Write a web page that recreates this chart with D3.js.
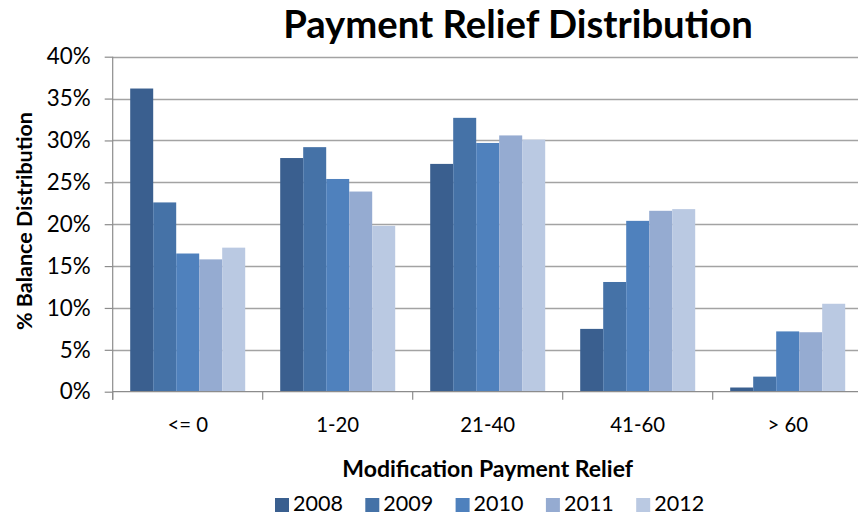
<!DOCTYPE html>
<html>
<head>
<meta charset="utf-8">
<script src="https://cdn.jsdelivr.net/npm/d3@7"></script>
<style>
html,body{margin:0;padding:0;background:#fff;overflow:hidden;}
svg{display:block;}
text{font-family:Lato,"Open Sans",sans-serif;fill:#000;}
</style>
</head>
<body>
<svg id="chart" width="858" height="516"></svg>
<script>
const categories = ["<= 0", "1-20", "21-40", "41-60", "> 60"];
const years = ["2008", "2009", "2010", "2011", "2012"];
const values2008 = [36.2, 27.9, 27.2, 7.5, 0.5];
const values2009 = [22.6, 29.2, 32.7, 13.1, 1.8];
const values2010 = [16.5, 25.4, 29.7, 20.4, 7.2];
const values2011 = [15.8, 23.9, 30.6, 21.6, 7.1];
const values2012 = [17.2, 19.8, 30.1, 21.8, 10.5];
const yTicks = [0, 5, 10, 15, 20, 25, 30, 35, 40];
const colors = ["#3a5f8f", "#4572a7", "#4f81bd", "#95abd1", "#bac9e2"];

(function () {
const seriesValues = [values2008, values2009, values2010, values2011, values2012];
const series = years.map((yr, i) => ({year: yr, values: seriesValues[i], color: colors[i]}));

const svg = d3.select("#chart");
const pLeft = 112.7, pRight = 862.7, pTop = 56.7, pBottom = 391.7;

const x0 = d3.scaleBand().domain(categories).range([pLeft, pRight])
  .paddingInner(35 / 150).paddingOuter(17.5 / 150);
const x1 = d3.scaleBand().domain(years).range([0, x0.bandwidth()]).padding(0);
const y = d3.scaleLinear().domain([0, 40]).range([pBottom, pTop]);

function fit(sel, target) {
  const base = 20;
  sel.attr("font-size", base);
  const l = sel.node().getComputedTextLength();
  sel.attr("font-size", base * target / l);
  return sel;
}

// gridlines
svg.append("g").selectAll("line").data(yTicks.filter(d => d > 0)).join("line")
  .attr("x1", pLeft).attr("x2", 858)
  .attr("y1", d => Math.round(y(d)) + 0.5).attr("y2", d => Math.round(y(d)) + 0.5)
  .attr("stroke", "#a3a3a3").attr("stroke-width", 1.3);

// bars
const groups = svg.append("g").selectAll("g").data(series).join("g")
  .attr("fill", d => d.color);
groups.selectAll("rect").data(s => s.values.map((v, i) => ({cat: categories[i], v, year: s.year})))
  .join("rect")
  .attr("x", d => x0(d.cat) + x1(d.year))
  .attr("width", x1.bandwidth())
  .attr("y", d => y(d.v))
  .attr("height", d => y(0) - y(d.v));

// y axis
const yAxis = svg.append("g").attr("transform", `translate(${pLeft},0)`)
  .call(d3.axisLeft(y).tickValues(yTicks).tickFormat(d => d + "%").tickSize(8).tickPadding(14));
yAxis.select(".domain").remove();
yAxis.selectAll(".tick line").attr("stroke", "#8c8c8c").attr("stroke-width", 1.2);
yAxis.selectAll(".tick text").attr("font-family", "Lato").attr("fill", "#222");
const t40 = yAxis.selectAll(".tick text").filter(d => d === 40);
fit(t40, 44);
yAxis.selectAll(".tick text").attr("font-size", t40.attr("font-size"));

svg.append("line").attr("x1", pLeft).attr("x2", pLeft).attr("y1", pTop).attr("y2", pBottom + 8)
  .attr("stroke", "#8c8c8c").attr("stroke-width", 1.2);

// x axis
svg.append("line").attr("x1", pLeft).attr("x2", 858).attr("y1", pBottom).attr("y2", pBottom)
  .attr("stroke", "#8c8c8c").attr("stroke-width", 1.2);
const step = x0.step();
const boundaries = categories.map(c => x0(c) - (step - x0.bandwidth()) / 2).concat([pRight]);
svg.append("g").selectAll("line").data(boundaries).join("line")
  .attr("x1", d => d).attr("x2", d => d).attr("y1", pBottom).attr("y2", pBottom + 8)
  .attr("stroke", "#8c8c8c").attr("stroke-width", 1.2);

const xLabels = svg.append("g").selectAll("text").data(categories).join("text")
  .attr("x", d => x0(d) + x0.bandwidth() / 2)
  .attr("y", 432)
  .attr("text-anchor", "middle")
  .attr("fill", "#222")
  .text(d => d);
const lbl = xLabels.filter(d => d === "1-20");
fit(lbl, 43);
xLabels.attr("font-size", lbl.attr("font-size"));

// axis titles
const xt = svg.append("text").attr("x", (pLeft + pRight) / 2).attr("y", 477)
  .attr("text-anchor", "middle").attr("font-weight", "bold")
  .text("Modification Payment Relief");
fit(xt, 291);

const yt = svg.append("text").attr("transform", "translate(32,221) rotate(-90)")
  .attr("text-anchor", "middle").attr("font-weight", "bold")
  .text("% Balance Distribution");
fit(yt, 218);

// title
const title = svg.append("text").attr("x", 518).attr("y", 38)
  .attr("text-anchor", "middle").attr("font-weight", "bold")
  .text("Payment Relief Distribution");
fit(title, 470);

// legend
const legend = svg.append("g").selectAll("g").data(series).join("g")
  .attr("transform", (d, i) => `translate(${275 + i * 90.3},0)`);
legend.append("rect").attr("x", 0).attr("y", 498).attr("width", 14).attr("height", 14)
  .attr("fill", d => d.color);
const lt = legend.append("text").attr("x", 18).attr("y", 511).attr("fill", "#222").text(d => d.year);
const l0 = lt.filter(d => d.year === "2008");
fit(l0, 50);
lt.attr("font-size", l0.attr("font-size"));
})();
</script>
</body>
</html>
